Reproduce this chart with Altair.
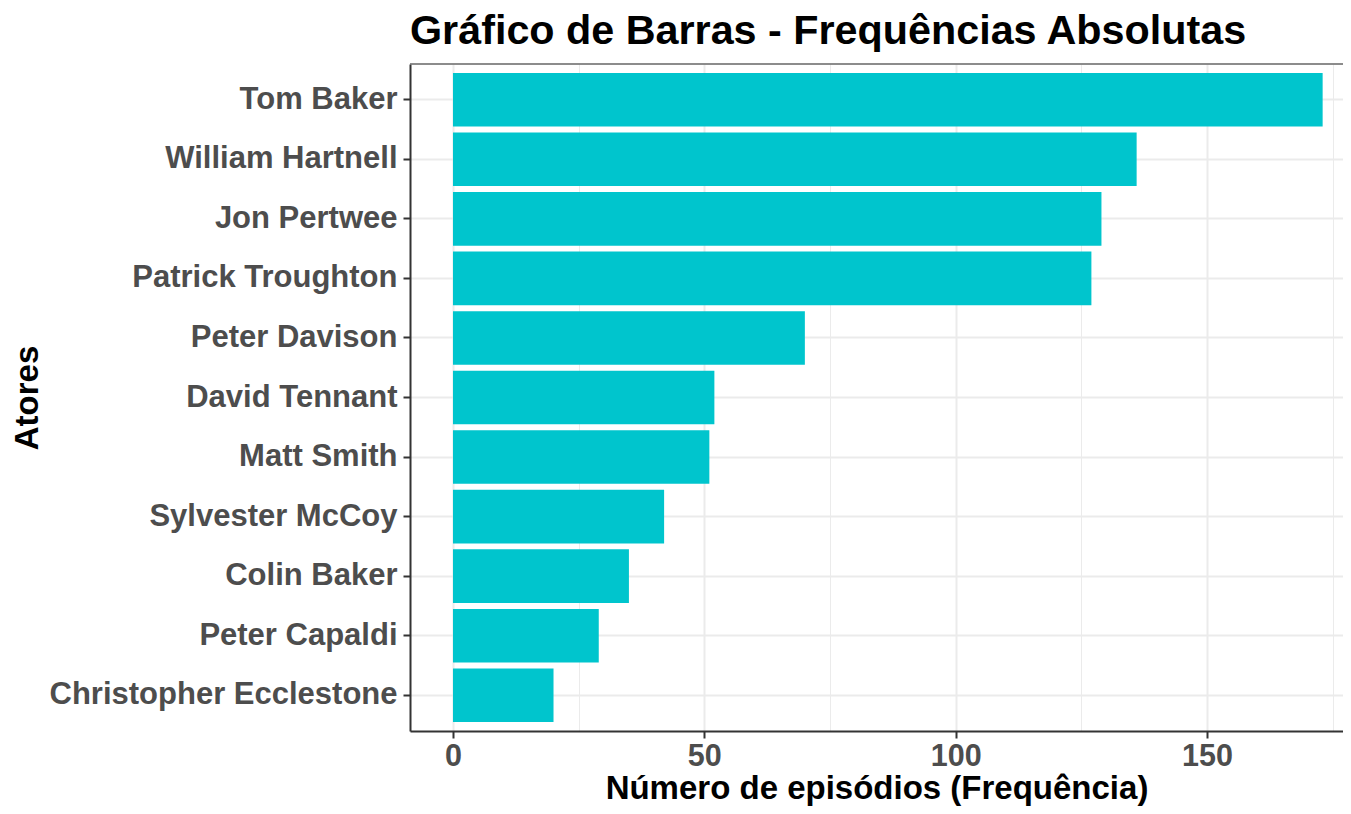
import altair as alt
import pandas as pd

atores = ["Tom Baker", "William Hartnell", "Jon Pertwee", "Patrick Troughton",
          "Peter Davison", "David Tennant", "Matt Smith", "Sylvester McCoy",
          "Colin Baker", "Peter Capaldi", "Christopher Ecclestone"]
episodios = [173, 136, 129, 127, 70, 52, 51, 42, 35, 29, 20]
x_ticks = [0, 25, 50, 75, 100, 125, 150, 175]
x_domain = [-8.55, 177.05]

df = pd.DataFrame({"Atores": atores, "Episodios": episodios})

W, H = 933, 667
FONT = "Liberation Sans"
major = "datum.value % 50 === 0"

bars = alt.Chart(df).mark_bar(color="#00C5CD").encode(
    x=alt.X(
        "Episodios:Q",
        scale=alt.Scale(domain=x_domain, nice=False, zero=False),
        axis=alt.Axis(
            values=x_ticks,
            title="Número de episódios (Frequência)",
            labelExpr=f"{major} ? datum.label : ''",
            gridWidth={"condition": {"test": major, "value": 2}, "value": 1},
            tickOpacity={"condition": {"test": major, "value": 1}, "value": 0},
            labelPadding=3,
            titlePadding=1,
        ),
    ),
    y=alt.Y(
        "Atores:N",
        sort=atores,
        scale=alt.Scale(paddingInner=0.1, paddingOuter=0.15),
        axis=alt.Axis(
            title="Atores",
            grid=True,
            gridWidth=2,
            labelPadding=6,
            labelLimit=0,
            labelFontSize=31,
            titleAngle=270,
            titleX=-373,
            titleY=H / 2,
            titleAlign="center",
            titleBaseline="alphabetic",
        ),
    ),
)

frame = alt.Chart(pd.DataFrame({"f": [0]})).mark_rule(
    color="#666666", strokeWidth=1.5
).encode(x=alt.value(0), x2=alt.value(W), y=alt.value(0))

chart = alt.layer(bars, frame).properties(
    width=W,
    height=H,
    title=alt.TitleParams(
        "Gráfico de Barras - Frequências Absolutas",
        anchor="start",
        frame="group",
        font=FONT,
        fontSize=41.3,
        fontWeight="bold",
        color="black",
        baseline="alphabetic",
        offset=-22,
    ),
    autosize=alt.AutoSizeParams(type="none"),
    padding={"left": 402, "top": 56, "right": 0, "bottom": 75},
).configure_view(stroke=None).configure_axis(
    labelFont=FONT,
    labelFontSize=30.5,
    labelFontWeight="bold",
    labelColor="#4D4D4D",
    titleFont=FONT,
    titleFontSize=33,
    titleFontWeight="bold",
    titleColor="black",
    gridColor="#EBEBEB",
    domainColor="#333333",
    domainWidth=2,
    tickColor="#333333",
    tickWidth=2,
    tickSize=7,
)

chart.save("out.html", embed_options={"renderer": "svg", "actions": False})
